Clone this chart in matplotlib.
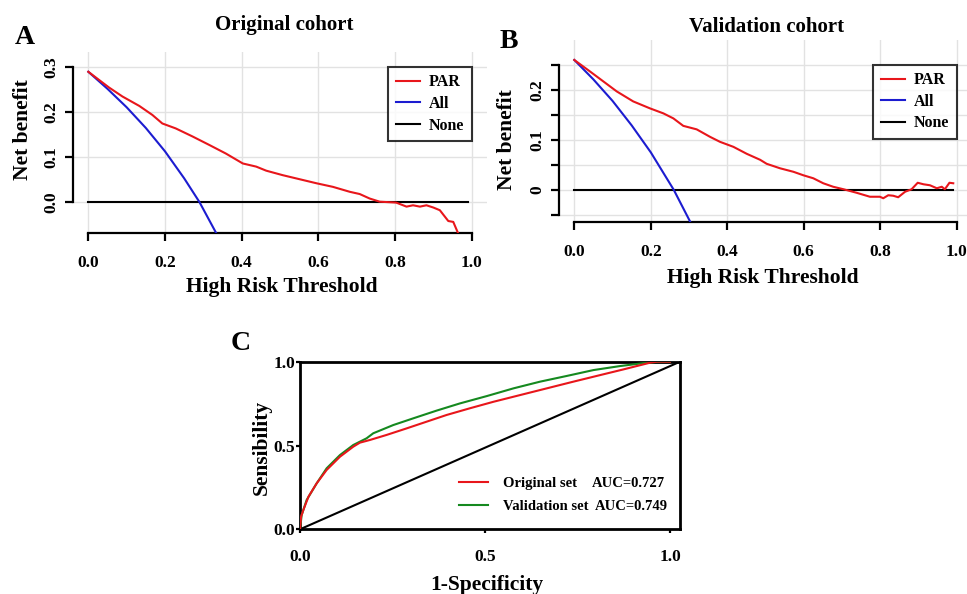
import matplotlib
matplotlib.use('Agg')
import matplotlib.pyplot as plt
from matplotlib.lines import Line2D

plt.rcParams['font.family'] = ['Liberation Serif', 'DejaVu Serif']
plt.rcParams['font.weight'] = 'bold'

# ---------------- Panel A: Original cohort (decision curve) ----------------
a_par_thr = [0.0, 0.054, 0.089, 0.133, 0.167, 0.193, 0.228, 0.272, 0.316, 0.359,
             0.403, 0.438, 0.464, 0.507, 0.551, 0.595, 0.638, 0.682, 0.708, 0.734,
             0.760, 0.803, 0.830, 0.847, 0.865, 0.882, 0.900, 0.917, 0.939, 0.952, 0.965]
a_par_nb = [0.290, 0.255, 0.235, 0.214, 0.194, 0.175, 0.164, 0.146, 0.127, 0.108,
            0.086, 0.079, 0.070, 0.060, 0.051, 0.042, 0.034, 0.023, 0.018, 0.008,
            0.001, -0.001, -0.010, -0.007, -0.010, -0.007, -0.012, -0.018, -0.042, -0.044, -0.070]
a_all_thr = [0.0, 0.05, 0.10, 0.15, 0.20, 0.25, 0.29, 0.333]
a_all_nb = [0.290, 0.252, 0.211, 0.165, 0.113, 0.053, 0.0, -0.068]
none_thr = [0.0, 0.99]
none_nb = [0.0, 0.0]

# ---------------- Panel B: Validation cohort (decision curve) ----------------
b_par_thr = [0.0, 0.041, 0.076, 0.111, 0.154, 0.198, 0.233, 0.259, 0.285, 0.320,
             0.355, 0.381, 0.416, 0.451, 0.486, 0.503, 0.538, 0.573, 0.599, 0.625,
             0.651, 0.677, 0.704, 0.738, 0.773, 0.799, 0.808, 0.821, 0.834, 0.847,
             0.865, 0.882, 0.898, 0.913, 0.930, 0.948, 0.961, 0.969, 0.981, 0.991]
b_par_nb = [0.260, 0.237, 0.217, 0.197, 0.177, 0.163, 0.153, 0.143, 0.128, 0.121,
            0.106, 0.096, 0.086, 0.072, 0.060, 0.052, 0.043, 0.036, 0.029, 0.023,
            0.013, 0.006, 0.001, -0.006, -0.014, -0.014, -0.017, -0.011, -0.012, -0.015,
            -0.004, 0.001, 0.014, 0.011, 0.009, 0.003, 0.006, 0.001, 0.014, 0.013]
b_all_thr = [0.0, 0.05, 0.10, 0.15, 0.20, 0.26, 0.303]
b_all_nb = [0.260, 0.221, 0.178, 0.129, 0.075, 0.0, -0.064]

# ---------------- Panel C: ROC curves ----------------
roc_orig_fpr = [0.0, 0.003, 0.009, 0.023, 0.045, 0.072, 0.108, 0.144, 0.162, 0.189,
                0.234, 0.288, 0.342, 0.396, 0.459, 0.523, 0.595, 0.667, 0.739, 0.811,
                0.874, 0.946, 0.964, 1.0]
roc_orig_tpr = [0.0, 0.076, 0.115, 0.195, 0.274, 0.354, 0.433, 0.493, 0.517, 0.533,
                0.563, 0.602, 0.642, 0.682, 0.722, 0.761, 0.801, 0.841, 0.881, 0.920,
                0.954, 0.994, 1.0, 1.0]
roc_val_fpr = [0.0, 0.0045, 0.018, 0.045, 0.072, 0.108, 0.144, 0.180, 0.198, 0.252,
               0.306, 0.369, 0.432, 0.505, 0.577, 0.649, 0.721, 0.793, 0.865, 0.937,
               0.973, 1.0]
roc_val_tpr = [0.0, 0.085, 0.175, 0.274, 0.364, 0.443, 0.503, 0.543, 0.573, 0.622,
               0.662, 0.708, 0.751, 0.795, 0.841, 0.881, 0.915, 0.950, 0.974, 0.994,
               1.0, 1.0]
auc_orig = 0.727
auc_val = 0.749

RED = '#e8161b'
BLUE = '#1c1cd0'
GREEN = '#15891f'
GRID = '#e2e2e2'

TICK_FS = 12.5
LABEL_FS = 15.5
TITLE_FS = 15
LEG_FS = 11.5

W, H = 967, 594
fig = plt.figure(figsize=(W / 100, H / 100), dpi=100)


def px_axes(left, top, right, bottom):
    return fig.add_axes([left / W, 1 - bottom / H, (right - left) / W, (bottom - top) / H])


def style_dca(ax, xticks, yticks, yticklabels, ybounds, ylim):
    ax.set_xlim(-0.04, 1.04)
    ax.set_ylim(*ylim)
    for s in ('top', 'right'):
        ax.spines[s].set_visible(False)
    ax.spines['left'].set_bounds(*ybounds)
    ax.spines['bottom'].set_bounds(0, 1)
    for s in ('left', 'bottom'):
        ax.spines[s].set_linewidth(1.6)
    ax.set_xticks(xticks)
    ax.set_xticklabels(['%.1f' % v for v in xticks])
    ax.set_yticks(yticks)
    ax.set_yticklabels(yticklabels, rotation=90, va='center')
    ax.tick_params(axis='both', length=6, width=1.6, labelsize=TICK_FS)
    ax.tick_params(axis='x', pad=10)
    ax.tick_params(axis='y', pad=4)
    ax.grid(True, color=GRID, linewidth=1.0)
    ax.set_axisbelow(True)


def dca_legend(ax, handles, labels, top):
    leg = ax.legend(handles, labels, loc='upper right',
                    bbox_to_anchor=(1.0, top), bbox_transform=ax.transData,
                    borderaxespad=0, fontsize=LEG_FS, frameon=True, fancybox=False,
                    edgecolor='black', handlelength=1.5, labelspacing=0.35,
                    borderpad=0.45, handletextpad=0.6)
    leg.get_frame().set_linewidth(1.5)
    return leg


order = [2, 1, 0]

# Panel A
axA = px_axes(73, 52, 487, 232.7)
style_dca(axA, [0, 0.2, 0.4, 0.6, 0.8, 1.0], [0.0, 0.1, 0.2, 0.3],
          ['0.0', '0.1', '0.2', '0.3'], (0, 0.3), (-0.068, 0.334))
axA.plot(none_thr, none_nb, color='black', lw=1.5, label='None', zorder=3)
axA.plot(a_all_thr, a_all_nb, color=BLUE, lw=1.5, label='All', zorder=4)
axA.plot(a_par_thr, a_par_nb, color=RED, lw=1.5, label='PAR', zorder=5)
hA, lA = axA.get_legend_handles_labels()
dca_legend(axA, [hA[i] for i in order], [lA[i] for i in order], 0.3)
axA.set_xlabel('High Risk Threshold', fontsize=LABEL_FS, fontweight='bold')
axA.xaxis.set_label_coords(0.505, -0.30)
axA.xaxis.label.set_va('center')
axA.set_ylabel('Net benefit', fontsize=LABEL_FS, fontweight='bold')
axA.yaxis.set_label_coords(-0.121, 0.568)
axA.yaxis.label.set_va('center')

# Panel B
axB = px_axes(559, 40, 972, 221.7)
style_dca(axB, [0, 0.2, 0.4, 0.6, 0.8, 1.0],
          [-0.05, 0.0, 0.05, 0.1, 0.15, 0.2, 0.25],
          ['', '0', '', '0.1', '', '0.2', ''], (-0.05, 0.25), (-0.064, 0.30))
axB.plot(none_thr, none_nb, color='black', lw=1.5, label='None', zorder=3)
axB.plot(b_all_thr, b_all_nb, color=BLUE, lw=1.5, label='All', zorder=4)
axB.plot(b_par_thr, b_par_nb, color=RED, lw=1.5, label='PAR', zorder=5)
hB, lB = axB.get_legend_handles_labels()
dca_legend(axB, [hB[i] for i in order], [lB[i] for i in order], 0.25)
axB.set_xlabel('High Risk Threshold', fontsize=LABEL_FS, fontweight='bold')
axB.xaxis.set_label_coords(0.494, -0.31)
axB.xaxis.label.set_va('center')
axB.set_ylabel('Net benefit', fontsize=LABEL_FS, fontweight='bold')
axB.yaxis.set_label_coords(-0.126, 0.45)
axB.yaxis.label.set_va('center')

# Titles and panel letters
fig.text(284 / W, 1 - 25 / H, 'Original cohort', ha='center', va='center', fontsize=TITLE_FS, fontweight='bold')
fig.text(767 / W, 1 - 27 / H, 'Validation cohort', ha='center', va='center', fontsize=TITLE_FS, fontweight='bold')
fig.text(15 / W, 1 - 37 / H, 'A', ha='left', va='center', fontsize=20, fontweight='bold')
fig.text(500 / W, 1 - 42 / H, 'B', ha='left', va='center', fontsize=20, fontweight='bold')
fig.text(231 / W, 1 - 343 / H, 'C', ha='left', va='center', fontsize=20, fontweight='bold')

# Panel C
axC = px_axes(300, 361.7, 680, 529.3)
axC.set_xlim(0, 1.027)
axC.set_ylim(0, 1.0)
for s in axC.spines.values():
    s.set_linewidth(2.0)
xmax = axC.get_xlim()[1]
axC.plot([0, xmax], [0, 1], color='black', lw=1.5, zorder=2)
axC.plot(roc_val_fpr, roc_val_tpr, color=GREEN, lw=1.5, zorder=3, label='Validation set')
axC.plot(roc_orig_fpr, roc_orig_tpr, color=RED, lw=1.5, zorder=4, label='Original set')
axC.set_xticks([0, 0.5, 1.0])
axC.set_xticklabels(['0.0', '0.5', '1.0'])
axC.set_yticks([0, 0.5, 1.0])
axC.set_yticklabels(['0.0', '0.5', '1.0'])
axC.tick_params(axis='both', length=3, width=1.6, labelsize=TICK_FS)
axC.tick_params(axis='x', pad=11)
axC.tick_params(axis='y', pad=0.5)
axC.legend([Line2D([], [], color=RED, lw=1.5), Line2D([], [], color=GREEN, lw=1.5)],
           ['Original set', 'Validation set'], loc='center left',
           bbox_to_anchor=(0.43, 0.205), bbox_transform=axC.transData,
           frameon=False, fontsize=10.5, handlelength=2.0, handletextpad=1.0,
           labelspacing=0.7, borderaxespad=0, borderpad=0)
axC.text(0.79, 0.274, 'AUC=%.3f' % auc_orig, fontsize=10.5, fontweight='bold', va='center', ha='left')
axC.text(0.797, 0.135, 'AUC=%.3f' % auc_val, fontsize=10.5, fontweight='bold', va='center', ha='left')
axC.set_xlabel('1-Specificity', fontsize=LABEL_FS, fontweight='bold')
axC.xaxis.set_label_coords(0.492, -0.332)
axC.xaxis.label.set_va('center')
axC.set_ylabel('Sensibility', fontsize=LABEL_FS, fontweight='bold')
axC.yaxis.set_label_coords(-0.10, 0.491)
axC.yaxis.label.set_va('center')

fig.savefig('out.png', dpi=100)
